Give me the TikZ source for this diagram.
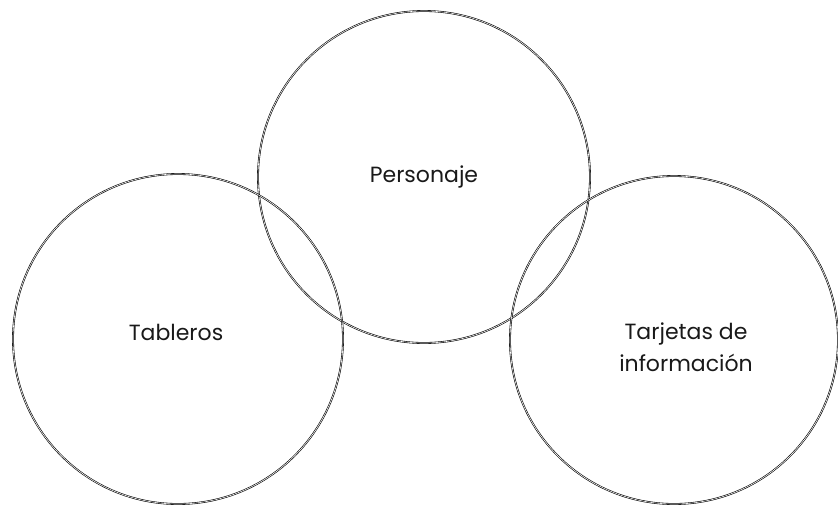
\documentclass[tikz,border=0pt]{standalone}
\usepackage{fontspec}
\setmainfont{Poppins}
\begin{document}
\begin{tikzpicture}[x=1pt,y=-1pt,
  ring/.style={circle, draw=black, line width=0.6pt, double=white, double distance=0.6pt, inner sep=0pt},
  label/.style={font=\fontsize{22}{32}\selectfont, align=center, text=black!90}]
\useasboundingbox (0,0) rectangle (838,504);
\node[ring, minimum size=332pt] (personaje) at (424,177) {};
\node[ring, minimum size=330pt] (tableros) at (178,339) {};
\node[ring, minimum size=328pt] (tarjetas) at (674,340) {};
\node[label] (tpers) at (424,177) {Personaje};
\node[label] (ttab) at (176,332) {Tableros};
\node[label] (ttarj) at (686,347) {Tarjetas de\\información};
\end{tikzpicture}
\end{document}
